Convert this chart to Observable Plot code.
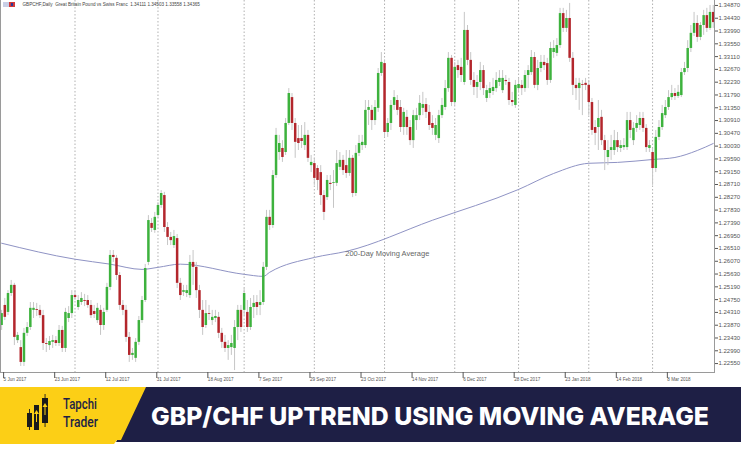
<!DOCTYPE html>
<html>
<head>
<meta charset="utf-8">
<script src="https://cdn.jsdelivr.net/npm/d3@7"></script>
<script src="https://cdn.jsdelivr.net/npm/@observablehq/plot@0.6"></script>
<style>
  html, body { margin: 0; padding: 0; background: #fff; }
  #wrap { width: 741px; height: 455px; position: relative; overflow: hidden; background: #fff; }
  #wrap svg { display: block; }
</style>
</head>
<body>
<div id="wrap"></div>
<script>
// GBPCHF daily candles, 5 Jun 2017 – late Mar 2018 (bar index = position on the time axis)
const open = [
  1.2386,1.2455,1.2431,1.2496,1.2524,1.2334,1.2310,1.2259,1.2359,1.2379,
  1.2438,1.2441,1.2438,1.2420,1.2324,1.2317,1.2328,1.2334,1.2324,1.2369,
  1.2307,1.2410,1.2427,1.2489,1.2448,1.2465,1.2472,1.2472,1.2455,1.2434,
  1.2403,1.2438,1.2386,1.2438,1.2517,1.2627,1.2617,1.2558,1.2455,1.2438,
  1.2345,1.2283,1.2273,1.2328,1.2403,1.2472,1.2603,1.2737,1.2713,1.2764,
  1.2799,1.2833,1.2723,1.2689,1.2661,1.2685,1.2531,1.2500,1.2496,1.2489,
  1.2603,1.2586,1.2506,1.2438,1.2386,1.2427,1.2403,1.2410,1.2414,1.2359,
  1.2328,1.2307,1.2310,1.2307,1.2379,1.2438,1.2438,1.2431,1.2379,1.2448,
  1.2465,1.2455,1.2465,1.2586,1.2758,1.2730,1.2902,1.2981,1.2995,1.2981,
  1.3081,1.3170,1.3081,1.3029,1.3029,1.3005,1.3040,1.2936,1.2943,1.2926,
  1.2912,1.2833,1.2826,1.2875,1.2875,1.2875,1.2930,1.2954,1.2936,1.2909,
  1.2961,1.2840,1.2978,1.3005,1.3005,1.3126,1.3126,1.3091,1.3133,1.3253,
  1.3287,1.3050,1.3081,1.3143,1.3160,1.3136,1.3067,1.3102,1.3067,1.3022,
  1.3091,1.3108,1.3133,1.3146,1.3119,1.3081,1.3040,1.3029,1.3108,1.3136,
  1.3201,1.3305,1.3153,1.3280,1.3274,1.3222,1.3401,1.3298,1.3229,1.3205,
  1.3222,1.3263,1.3167,1.3184,1.3191,1.3201,1.3222,1.3194,1.3229,1.3222,
  1.3160,1.3143,1.3201,1.3212,1.3201,1.3246,1.3256,1.3308,1.3212,1.3270,
  1.3291,1.3287,1.3229,1.3325,1.3322,1.3349,1.3459,1.3408,1.3442,1.3305,
  1.3212,1.3201,1.3215,1.3219,1.3212,1.3153,1.3067,1.3067,1.3102,1.3022,
  1.2964,1.2988,1.2988,1.3022,1.2995,1.2998,1.2998,1.3091,1.3022,1.3064,
  1.3074,1.3098,1.3064,1.2995,1.2981,1.2926,1.3033,1.3067,1.3108,1.3136,
  1.3170,1.3184,1.3174,1.3177,1.3256,1.3270,1.3339,1.3391,1.3425,1.3377,
  1.3418,1.3452,1.3408,1.3463
];
const high = [
  1.2438,1.2479,1.2506,1.2541,1.2531,1.2362,1.2334,1.2376,1.2396,1.2465,
  1.2465,1.2462,1.2455,1.2438,1.2341,1.2348,1.2352,1.2348,1.2386,1.2383,
  1.2445,1.2451,1.2506,1.2506,1.2489,1.2499,1.2493,1.2489,1.2472,1.2455,
  1.2462,1.2455,1.2445,1.2531,1.2644,1.2644,1.2627,1.2568,1.2472,1.2455,
  1.2362,1.2307,1.2341,1.2417,1.2486,1.2596,1.2764,1.2754,1.2775,1.2809,
  1.2850,1.2844,1.2740,1.2706,1.2713,1.2699,1.2548,1.2524,1.2524,1.2627,
  1.2644,1.2603,1.2524,1.2472,1.2472,1.2455,1.2438,1.2438,1.2431,1.2376,
  1.2352,1.2334,1.2352,1.2403,1.2455,1.2455,1.2513,1.2472,1.2479,1.2489,
  1.2489,1.2506,1.2603,1.2782,1.2782,1.2919,1.3064,1.3040,1.3022,1.3098,
  1.3201,1.3184,1.3098,1.3074,1.3074,1.3084,1.3057,1.2971,1.2961,1.2936,
  1.2936,1.2850,1.2902,1.2902,1.2919,1.2988,1.2981,1.2971,1.2988,1.2988,
  1.2971,1.3005,1.3040,1.3040,1.3160,1.3160,1.3143,1.3160,1.3270,1.3325,
  1.3298,1.3098,1.3160,1.3194,1.3177,1.3160,1.3133,1.3126,1.3091,1.3126,
  1.3133,1.3177,1.3188,1.3167,1.3143,1.3108,1.3098,1.3126,1.3167,1.3229,
  1.3325,1.3315,1.3291,1.3298,1.3305,1.3463,1.3418,1.3325,1.3256,1.3246,
  1.3291,1.3280,1.3212,1.3222,1.3236,1.3256,1.3263,1.3263,1.3246,1.3236,
  1.3188,1.3229,1.3236,1.3229,1.3263,1.3280,1.3332,1.3325,1.3298,1.3315,
  1.3315,1.3305,1.3360,1.3366,1.3373,1.3477,1.3477,1.3470,1.3494,1.3325,
  1.3236,1.3236,1.3229,1.3236,1.3229,1.3167,1.3091,1.3160,1.3126,1.3040,
  1.3022,1.3040,1.3057,1.3050,1.3022,1.3029,1.3119,1.3119,1.3084,1.3108,
  1.3119,1.3119,1.3077,1.3022,1.2995,1.3057,1.3091,1.3143,1.3160,1.3194,
  1.3212,1.3201,1.3212,1.3270,1.3291,1.3366,1.3418,1.3463,1.3452,1.3428,
  1.3470,1.3477,1.3487,1.3487
];
const low = [
  1.2369,1.2403,1.2420,1.2486,1.2317,1.2324,1.2245,1.2245,1.2348,1.2369,
  1.2410,1.2417,1.2410,1.2300,1.2293,1.2300,1.2307,1.2314,1.2314,1.2293,
  1.2293,1.2396,1.2410,1.2472,1.2438,1.2455,1.2451,1.2445,1.2410,1.2410,
  1.2393,1.2352,1.2369,1.2431,1.2506,1.2603,1.2541,1.2438,1.2420,1.2328,
  1.2259,1.2266,1.2259,1.2317,1.2393,1.2465,1.2592,1.2706,1.2703,1.2754,
  1.2789,1.2706,1.2661,1.2661,1.2651,1.2513,1.2472,1.2486,1.2482,1.2479,
  1.2524,1.2479,1.2410,1.2352,1.2376,1.2403,1.2386,1.2396,1.2341,1.2307,
  1.2293,1.2266,1.2283,1.2231,1.2334,1.2362,1.2420,1.2362,1.2369,1.2410,
  1.2420,1.2420,1.2455,1.2575,1.2713,1.2720,1.2892,1.2954,1.2947,1.2971,
  1.3074,1.3057,1.2961,1.2988,1.2995,1.2988,1.2947,1.2912,1.2868,1.2850,
  1.2799,1.2747,1.2816,1.2850,1.2789,1.2864,1.2919,1.2902,1.2892,1.2899,
  1.2826,1.2830,1.2967,1.2988,1.2995,1.3074,1.3057,1.3074,1.3119,1.3243,
  1.3033,1.3033,1.3057,1.3126,1.3108,1.3050,1.3040,1.3040,1.3005,1.2995,
  1.3057,1.3091,1.3108,1.3098,1.3057,1.3040,1.3022,1.3012,1.3098,1.3126,
  1.3188,1.3139,1.3143,1.3236,1.3222,1.3212,1.3280,1.3212,1.3177,1.3167,
  1.3194,1.3177,1.3153,1.3167,1.3177,1.3188,1.3208,1.3184,1.3212,1.3143,
  1.3139,1.3133,1.3188,1.3177,1.3188,1.3201,1.3246,1.3201,1.3194,1.3256,
  1.3263,1.3212,1.3219,1.3305,1.3311,1.3339,1.3394,1.3394,1.3291,1.3177,
  1.3160,1.3126,1.3108,1.3194,1.3108,1.3040,1.3005,1.2988,1.3005,1.2919,
  1.2936,1.2954,1.2971,1.2981,1.2981,1.2988,1.2988,1.3029,1.3005,1.3050,
  1.3057,1.3050,1.2981,1.2981,1.2868,1.2912,1.3022,1.3057,1.3098,1.3126,
  1.3160,1.3160,1.3167,1.3170,1.3246,1.3256,1.3325,1.3380,1.3360,1.3366,
  1.3384,1.3394,1.3401,1.3408
];
const close = [
  1.2427,1.2414,1.2496,1.2524,1.2345,1.2352,1.2259,1.2359,1.2379,1.2445,
  1.2445,1.2438,1.2420,1.2324,1.2321,1.2331,1.2334,1.2324,1.2369,1.2307,
  1.2431,1.2427,1.2489,1.2482,1.2472,1.2479,1.2469,1.2455,1.2420,1.2424,
  1.2445,1.2386,1.2431,1.2517,1.2627,1.2620,1.2558,1.2455,1.2438,1.2345,
  1.2283,1.2290,1.2328,1.2403,1.2472,1.2582,1.2747,1.2720,1.2758,1.2799,
  1.2840,1.2723,1.2689,1.2678,1.2692,1.2531,1.2489,1.2506,1.2506,1.2603,
  1.2586,1.2506,1.2438,1.2379,1.2427,1.2424,1.2414,1.2417,1.2359,1.2328,
  1.2307,1.2317,1.2324,1.2379,1.2438,1.2379,1.2496,1.2379,1.2448,1.2462,
  1.2448,1.2465,1.2586,1.2758,1.2730,1.2902,1.3040,1.3012,1.2964,1.3081,
  1.3184,1.3081,1.3016,1.3012,1.3019,1.3040,1.2961,1.2947,1.2892,1.2885,
  1.2833,1.2775,1.2885,1.2871,1.2878,1.2943,1.2954,1.2919,1.2909,1.2961,
  1.2840,1.2978,1.3012,1.3016,1.3126,1.3136,1.3091,1.3136,1.3253,1.3291,
  1.3050,1.3081,1.3143,1.3170,1.3126,1.3067,1.3119,1.3067,1.3022,1.3108,
  1.3108,1.3150,1.3146,1.3119,1.3074,1.3064,1.3074,1.3108,1.3143,1.3201,
  1.3305,1.3153,1.3274,1.3263,1.3246,1.3401,1.3298,1.3229,1.3205,1.3222,
  1.3263,1.3201,1.3194,1.3201,1.3205,1.3229,1.3236,1.3236,1.3225,1.3160,
  1.3153,1.3212,1.3215,1.3201,1.3246,1.3263,1.3308,1.3212,1.3270,1.3291,
  1.3280,1.3229,1.3339,1.3339,1.3349,1.3459,1.3408,1.3442,1.3305,1.3212,
  1.3201,1.3219,1.3212,1.3212,1.3153,1.3057,1.3047,1.3098,1.3022,1.2988,
  1.2988,1.2998,1.3022,1.2998,1.3005,1.3005,1.3091,1.3057,1.3064,1.3081,
  1.3098,1.3064,1.2998,1.3005,1.2926,1.3033,1.3067,1.3115,1.3136,1.3170,
  1.3184,1.3174,1.3188,1.3256,1.3270,1.3339,1.3391,1.3425,1.3377,1.3418,
  1.3452,1.3408,1.3463,1.3428
];

// 200-day moving average, read at selected bars
const maBars   = [0, 23, 34, 44, 49, 56, 76, 82, 84, 98, 108, 135, 162, 173, 184, 193, 204, 211, 218, 223];
const maValues = [1.2669, 1.2614, 1.2597, 1.2579, 1.2586, 1.2597, 1.2562, 1.2555, 1.2569, 1.2620,
                  1.2641, 1.2748, 1.2854, 1.2909, 1.2944, 1.2947, 1.2957, 1.2964, 1.2988, 1.3012];
const maLabel = "200-Day Moving Average";
const maLabelBar = 108;

// month separators (first bar of each month)
const monthStarts = [23, 49, 76, 98, 120, 142, 162, 184, 204];

// time-axis labels, one every 16 bars
const dateBars = [0, 16, 32, 48, 64, 80, 96, 112, 128, 144, 160, 176, 192, 208];
const dateLabels = ["5 Jun 2017", "23 Jun 2017", "12 Jul 2017", "31 Jul 2017", "18 Aug 2017",
  "7 Sep 2017", "29 Sep 2017", "23 Oct 2017", "14 Nov 2017", "6 Dec 2017", "28 Dec 2017",
  "23 Jan 2018", "14 Feb 2018", "8 Mar 2018"];

// price-axis labels
const priceTicks = [1.34870, 1.34430, 1.33990, 1.33550, 1.33110, 1.32670, 1.32230, 1.31790,
  1.31350, 1.30910, 1.30470, 1.30030, 1.29590, 1.29150, 1.28710, 1.28270, 1.27830, 1.27390,
  1.26950, 1.26510, 1.26070, 1.25630, 1.25190, 1.24750, 1.24310, 1.23870, 1.23430, 1.22990, 1.22550];

const header = "GBPCHF,Daily  Great Britain Pound vs Swiss Franc  1.34111 1.34503 1.33558 1.34365";
const title = "GBP/CHF UPTREND USING MOVING AVERAGE";
const brand = ["Tapchi", "Trader"];

const bars = open.map((_, i) => i);
const maPoints = maBars.map((b, i) => ({bar: b, value: maValues[i]}));
const labelPoint = maPoints.filter(d => d.bar === maLabelBar);

const UP = "#3db23d", DOWN = "#b3262c", WICK = "#c6c6c6", AXIS = "#9a9a9a";

const chart = Plot.plot({
  width: 741,
  height: 387,
  marginLeft: 0,
  marginRight: 27,
  marginTop: 0,
  marginBottom: 15,
  style: {fontFamily: "'Liberation Sans', 'DejaVu Sans', sans-serif", background: "#fff", overflow: "visible"},
  x: {type: "linear", domain: [-0.35, 223.4]},
  y: {domain: [1.22243, 1.3504]},
  color: {type: "identity"},
  marks: [
    Plot.ruleX(monthStarts, {stroke: "#a8a8a8", strokeWidth: 0.9, strokeDasharray: "1.5,2"}),
    Plot.line(maPoints, {x: "bar", y: "value", stroke: "#8f93c4", strokeWidth: 1, curve: "monotone-x"}),
    Plot.ruleX(bars, {x: d => d, y1: i => low[i], y2: i => high[i], stroke: WICK, strokeWidth: 1}),
    Plot.ruleX(bars, {x: d => d, y1: i => open[i], y2: i => close[i],
      stroke: i => close[i] >= open[i] ? UP : DOWN, strokeWidth: 2.5}),
    Plot.text(labelPoint, {x: "bar", y: "value", text: () => maLabel, textAnchor: "start",
      dx: -1, dy: 2, fontSize: 7.5, fill: "#666"}),
    Plot.text([header], {frameAnchor: "top-left", dx: 22, dy: 2, fontSize: 4.6, fill: "#444"}),
    Plot.frame({anchor: "left", stroke: AXIS}),
    Plot.frame({anchor: "right", stroke: AXIS}),
    Plot.frame({anchor: "bottom", stroke: AXIS}),
    Plot.axisY(priceTicks, {anchor: "right", label: null, tickSize: 3, tickPadding: 1,
      tickFormat: d => d.toFixed(5), fontSize: 6, color: "#555"}),
    Plot.axisX(dateBars, {anchor: "bottom", label: null, tickSize: 6, tickPadding: -1,
      textAnchor: "start", dx: 2, fontSize: 4.6, color: "#555",
      tickFormat: d => dateLabels[dateBars.indexOf(d)]})
  ]
});

const wrap = document.getElementById("wrap");
wrap.appendChild(chart);

// small symbol icon in the chart's top-left corner
const icon = d3.select(chart).append("g");
icon.append("rect").attr("x", 3).attr("y", 2).attr("width", 6).attr("height", 5).attr("fill", "#c9cfe6");
icon.append("rect").attr("x", 9).attr("y", 2).attr("width", 6).attr("height", 5).attr("fill", "#d23a3a");
icon.append("rect").attr("x", 11).attr("y", 3).attr("width", 2).attr("height", 3).attr("fill", "#2a3a9a");

// title banner below the chart
const banner = d3.select(wrap).append("svg").attr("width", 741).attr("height", 68);
banner.append("rect").attr("width", 741).attr("height", 68).attr("fill", "#fff");
banner.append("polygon").attr("points", "144,0 741,0 741,55 116,55").attr("fill", "#1e1f45");
banner.append("polygon").attr("points", "0,0 146,0 121,53 117,53 114,57 0,57").attr("fill", "#fccf16");

// brand mark: candlestick bars with up-arrows
const logo = banner.append("g").attr("fill", "#1b1b1b");
logo.append("rect").attr("x", 27).attr("y", 26).attr("width", 5).attr("height", 14);
logo.append("rect").attr("x", 34).attr("y", 18).attr("width", 5).attr("height", 25);
logo.append("rect").attr("x", 42).attr("y", 11).attr("width", 6).attr("height", 25);
logo.append("rect").attr("x", 29).attr("y", 22).attr("width", 0.9).attr("height", 21);
logo.append("rect").attr("x", 44.6).attr("y", 7).attr("width", 0.9).attr("height", 33);
const arrows = banner.append("g").attr("fill", "#fccf16");
arrows.append("polygon").attr("points", "36.5,23 39,27 34,27");
arrows.append("rect").attr("x", 36).attr("y", 27).attr("width", 1).attr("height", 8);
arrows.append("polygon").attr("points", "45,16 47.5,20 42.5,20");
arrows.append("rect").attr("x", 44.5).attr("y", 20).attr("width", 1).attr("height", 8);

banner.append("text").attr("x", 63).attr("y", 22).attr("font-family", "Roboto, 'Liberation Sans', sans-serif")
  .attr("font-size", 14).attr("font-weight", 500).attr("fill", "#1e1f45")
  .attr("textLength", 34).attr("lengthAdjust", "spacingAndGlyphs").text(brand[0]);
banner.append("text").attr("x", 63).attr("y", 40).attr("font-family", "Roboto, 'Liberation Sans', sans-serif")
  .attr("font-size", 14).attr("font-weight", 500).attr("fill", "#1e1f45")
  .attr("textLength", 35).attr("lengthAdjust", "spacingAndGlyphs").text(brand[1]);

banner.append("text").attr("x", 151).attr("y", 38).attr("font-family", "Inter, Roboto, sans-serif")
  .attr("font-size", 25).attr("font-weight", 800).attr("fill", "#fff")
  .attr("textLength", 558).attr("lengthAdjust", "spacingAndGlyphs").text(title);
</script>
</body>
</html>
